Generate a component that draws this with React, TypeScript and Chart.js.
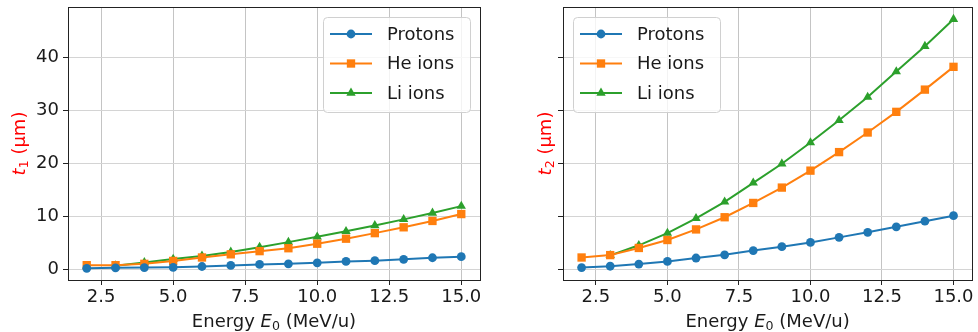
import React, { useEffect, useRef } from "react";
import { Chart, registerables } from "chart.js";

Chart.register(...registerables);

const energies = [2, 3, 4, 5, 6, 7, 8, 9, 10, 11, 12, 13, 14, 15];

const t1Protons = [0.15, 0.25, 0.3, 0.35, 0.5, 0.7, 0.9, 1.0, 1.2, 1.45, 1.6, 1.85, 2.15, 2.35];
const t1He = [0.75, 0.75, 1.0, 1.55, 2.2, 2.8, 3.4, 3.95, 4.8, 5.75, 6.8, 7.9, 9.1, 10.4];
const t1Li = [null, 0.65, 1.25, 1.9, 2.5, 3.25, 4.15, 5.1, 6.1, 7.15, 8.25, 9.4, 10.6, 11.9];

const t2Protons = [0.3, 0.55, 0.95, 1.45, 2.1, 2.7, 3.5, 4.25, 5.05, 6.0, 6.95, 8.0, 9.05, 10.1];
const t2He = [2.2, 2.65, 4.0, 5.5, 7.5, 9.8, 12.5, 15.4, 18.6, 22.1, 25.8, 29.7, 33.9, 38.2];
const t2Li = [null, 2.6, 4.5, 6.8, 9.6, 12.7, 16.3, 19.9, 23.9, 28.1, 32.5, 37.3, 42.1, 47.2];

const seriesNames = ["Protons", "He ions", "Li ions"];
const xTicks = [2.5, 5.0, 7.5, 10.0, 12.5, 15.0];
const yTicks = [0, 10, 20, 30, 40];

const COLORS = ["#1f77b4", "#ff7f0e", "#2ca02c"];
const STYLES = ["circle", "rect", "triangle"];
const RADII = [4.4, 5.9, 5.4];
const FONT = "DejaVu Sans";
const FS = 18;

type Part = { text: string; italic?: boolean; sub?: boolean };

function drawRich(ctx: CanvasRenderingContext2D, parts: Part[], x: number, y: number, rotate: boolean, color: string) {
  ctx.save();
  ctx.translate(x, y);
  if (rotate) ctx.rotate(-Math.PI / 2);
  ctx.fillStyle = color;
  ctx.textBaseline = "alphabetic";
  ctx.textAlign = "left";
  const fontOf = (p: Part) => `${p.italic ? "italic " : ""}${p.sub ? FS * 0.7 : FS}px "${FONT}"`;
  let total = 0;
  const widths = parts.map((p) => {
    ctx.font = fontOf(p);
    const w = ctx.measureText(p.text).width;
    total += w;
    return w;
  });
  let cx = -total / 2;
  parts.forEach((p, i) => {
    ctx.font = fontOf(p);
    ctx.fillText(p.text, cx, p.sub ? FS * 0.35 + FS * 0.15 : FS * 0.35);
    cx += widths[i];
  });
  ctx.restore();
}

function drawMarker(ctx: CanvasRenderingContext2D, style: string, x: number, y: number, r: number, color: string) {
  ctx.save();
  ctx.fillStyle = color;
  ctx.beginPath();
  if (style === "circle") {
    ctx.arc(x, y, r, 0, Math.PI * 2);
  } else if (style === "rect") {
    const s = r / Math.SQRT2;
    ctx.rect(x - s, y - s, 2 * s, 2 * s);
  } else {
    const a = (2 * Math.PI) / 3;
    ctx.moveTo(x, y - r);
    ctx.lineTo(x + Math.sin(a) * r, y - Math.cos(a) * r);
    ctx.lineTo(x - Math.sin(a) * r, y - Math.cos(a) * r);
    ctx.closePath();
  }
  ctx.fill();
  ctx.restore();
}

function makeChart(
  canvas: HTMLCanvasElement,
  data: (number | null)[][],
  sub: string,
  showYLabels: boolean,
  yAxisWidth: number,
  rightPad: number,
  legendX: number,
  yTitleX: number
) {
  const framePlugin = {
    id: "framePlugin",
    afterDraw(chart: any) {
      const ctx: CanvasRenderingContext2D = chart.ctx;
      const a = chart.chartArea;
      ctx.save();
      ctx.strokeStyle = "#222222";
      ctx.lineWidth = 1;
      ctx.strokeRect(Math.round(a.left) + 0.5, Math.round(a.top) + 0.5, Math.round(a.right - a.left), Math.round(a.bottom - a.top));
      // legend
      const bx = legendX, by = 17, bw = 147, bh = 95;
      ctx.beginPath();
      (ctx as any).roundRect(bx + 0.5, by + 0.5, bw, bh, 4);
      ctx.fillStyle = "rgba(255,255,255,0.8)";
      ctx.fill();
      ctx.strokeStyle = "#d0d0d0";
      ctx.stroke();
      chart.data.datasets.forEach((ds: any, i: number) => {
        const ry = 34 + i * 29.5;
        ctx.beginPath();
        ctx.strokeStyle = ds.borderColor;
        ctx.lineWidth = 2;
        ctx.moveTo(bx + 7, ry);
        ctx.lineTo(bx + 49, ry);
        ctx.stroke();
        drawMarker(ctx, STYLES[i], bx + 28, ry, RADII[i], ds.backgroundColor);
        ctx.fillStyle = "#1a1a1a";
        ctx.font = `${FS}px "${FONT}"`;
        ctx.textBaseline = "middle";
        ctx.textAlign = "left";
        ctx.fillText(ds.label, bx + 64, ry + 1);
      });
      // titles
      const cxMid = (a.left + a.right) / 2;
      drawRich(ctx, [{ text: "Energy " }, { text: "E", italic: true }, { text: "0", sub: true }, { text: " (MeV/u)" }], cxMid, 321, false, "#1a1a1a");
      drawRich(ctx, [{ text: "t", italic: true }, { text: sub, sub: true }, { text: " (μm)" }], yTitleX, (a.top + a.bottom) / 2, true, "#ff0000");
      ctx.restore();
    },
  };

  const datasets = data.map((d, i) => ({
    label: seriesNames[i],
    data: d,
    borderColor: COLORS[i],
    backgroundColor: COLORS[i],
    borderWidth: 2,
    pointStyle: STYLES[i],
    pointRadius: RADII[i],
    pointHoverRadius: RADII[i],
    pointBorderWidth: 0,
    tension: 0,
    spanGaps: false,
  }));

  return new Chart(canvas, {
    type: "line",
    data: { labels: energies, datasets },
    plugins: [framePlugin],
    options: {
      responsive: false,
      animation: false,
      events: [],
      layout: { padding: { top: 7, right: rightPad, left: 0, bottom: 0 } },
      plugins: { legend: { display: false }, tooltip: { enabled: false } },
      scales: {
        x: {
          type: "linear",
          min: 1.35,
          max: 15.65,
          afterBuildTicks: (s: any) => {
            s.ticks = xTicks.map((v) => ({ value: v }));
          },
          afterFit: (s: any) => {
            s.height = 52;
            s.paddingLeft = 0;
            s.paddingRight = 0;
          },
          ticks: {
            color: "#1a1a1a",
            font: { family: FONT, size: FS },
            padding: 2,
            maxRotation: 0,
            autoSkip: false,
            callback: (v: any) => Number(v).toFixed(1),
          },
          grid: { color: "#c4c4c4", lineWidth: 1, tickLength: 5, tickColor: "#222222", drawTicks: true },
          border: { display: false },
        },
        y: {
          type: "linear",
          min: -2.05,
          max: 49.5,
          afterBuildTicks: (s: any) => {
            s.ticks = yTicks.map((v) => ({ value: v }));
          },
          afterFit: (s: any) => {
            s.width = yAxisWidth;
            s.paddingTop = 0;
            s.paddingBottom = 0;
          },
          ticks: {
            color: "#1a1a1a",
            font: { family: FONT, size: FS },
            padding: 4,
            callback: (v: any) => (showYLabels ? String(v) : ""),
          },
          grid: { color: "#d4d4d4", lineWidth: 1, tickLength: 5, tickColor: "#222222", drawTicks: true },
          border: { display: false },
        },
      },
    },
  } as any);
}

export default function App() {
  const leftRef = useRef<HTMLCanvasElement>(null);
  const rightRef = useRef<HTMLCanvasElement>(null);

  useEffect(() => {
    const c1 = makeChart(leftRef.current!, [t1Protons, t1He, t1Li], "1", true, 68, 10, 323, 19);
    const c2 = makeChart(rightRef.current!, [t2Protons, t2He, t2Li], "2", false, 73, 4, 83, 55);
    return () => {
      c1.destroy();
      c2.destroy();
    };
  }, []);

  return (
    <div style={{ position: "fixed", left: 0, top: 0, width: 978, height: 332, background: "#fff" }}>
      <canvas ref={leftRef} width={490} height={332} style={{ position: "absolute", left: 0, top: 0 }} />
      <canvas ref={rightRef} width={488} height={332} style={{ position: "absolute", left: 490, top: 0 }} />
    </div>
  );
}
